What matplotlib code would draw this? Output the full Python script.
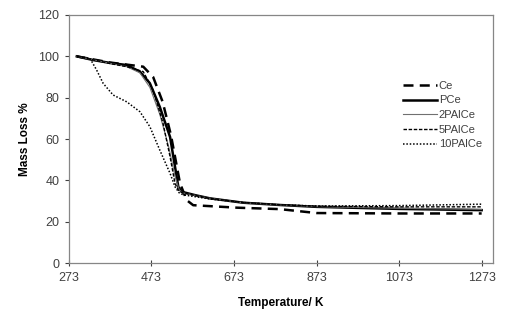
import matplotlib.pyplot as plt

plt.rcParams['font.family'] = ['Liberation Sans', 'DejaVu Sans']

# TGA curves (temperature in K, mass %)
t_ce = [292, 332, 373, 413, 453, 477, 500, 520, 542, 558, 574, 680, 784, 873, 1073, 1273]
m_ce = [100, 98.5, 97, 96, 95, 90, 78, 62, 38.7, 30.5, 28, 26.8, 26.1, 24.2, 24, 24]

t_pce = [292, 332, 373, 413, 445, 469, 493, 518, 530, 538, 546, 580, 615, 695, 784, 873, 1073, 1273]
m_pce = [100, 98.2, 96.8, 95.8, 92.6, 87, 75.6, 61, 46.6, 36.9, 34.5, 32.8, 31.3, 29.2, 28.1, 27.2, 26.2, 25.6]

t_2pal = [292, 332, 373, 413, 445, 469, 493, 515, 530, 540, 548, 615, 695, 784, 873, 1073, 1273]
m_2pal = [100, 98.3, 96.6, 95, 92, 85, 72, 56, 42, 35.5, 34, 31.3, 29.2, 28.1, 27.3, 26.5, 26]

t_5pal = [292, 332, 373, 413, 453, 477, 501, 518, 530, 538, 548, 615, 695, 784, 873, 1073, 1273]
m_5pal = [100, 98.3, 96.5, 95, 92.6, 83.7, 67.6, 51.4, 38.5, 35.3, 34, 31.3, 29.3, 28.2, 27.5, 27.2, 27.2]

t_10pal = [292, 310, 324, 340, 356, 380, 413, 445, 469, 493, 518, 530, 540, 550, 615, 695, 784, 873, 1073, 1273]
m_10pal = [100, 99.5, 99, 93.4, 86.9, 81.3, 78, 73.2, 66, 54.7, 43.4, 36.9, 34, 33, 31, 29.3, 28.2, 27.6, 27.8, 28.5]

x_ticks = [273, 473, 673, 873, 1073, 1273]
y_ticks = [0, 20, 40, 60, 80, 100, 120]

fig = plt.figure(figsize=(5.07, 3.26), dpi=100)
ax = fig.add_axes([0.136, 0.193, 0.836, 0.761])

ax.plot(t_ce, m_ce, color='black', lw=1.8, dashes=(4, 2.5), label='Ce')
ax.plot(t_pce, m_pce, color='black', lw=1.8, label='PCe')
ax.plot(t_2pal, m_2pal, color='#707070', lw=0.8, label='2PAlCe')
ax.plot(t_5pal, m_5pal, color='black', lw=1.0, dashes=(2.5, 1.2), label='5PAlCe')
ax.plot(t_10pal, m_10pal, color='black', lw=1.1, dashes=(1, 1.2), label='10PAlCe')

ax.set_xlim(273, 1300)
ax.set_ylim(0, 120)
ax.set_xticks(x_ticks)
ax.set_yticks(y_ticks)
ax.tick_params(labelsize=9, colors='#404040', length=3, width=0.8, pad=4)
ax.tick_params(axis='x', direction='inout', length=5)
ax.tick_params(axis='y', direction='out')
for s in ax.spines.values():
    s.set_color('#868686')
    s.set_linewidth(0.9)

ax.set_xlabel('Temperature/ K', fontsize=8.5, fontweight='bold', labelpad=9)
ax.set_ylabel('Mass Loss %', fontsize=8.5, fontweight='bold', labelpad=5)

leg = ax.legend(loc='upper left', bbox_to_anchor=(0.765, 0.775), frameon=False,
                fontsize=8, handlelength=3.0, handletextpad=0.2, labelspacing=0.42)
for t in leg.get_texts():
    t.set_color('#404040')

fig.savefig('out.png', dpi=100)
